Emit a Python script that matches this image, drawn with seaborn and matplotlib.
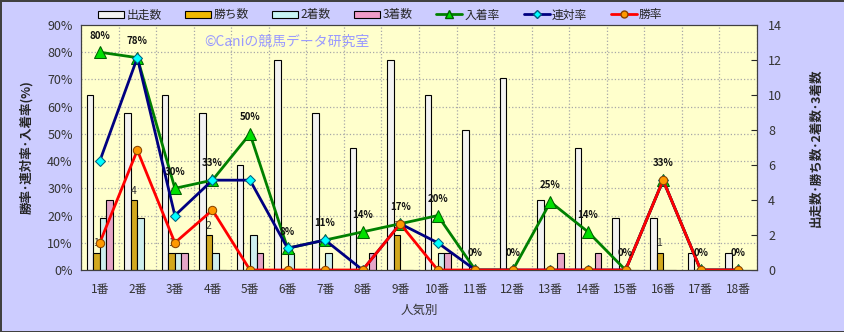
import numpy as np
import pandas as pd
import matplotlib
matplotlib.use("Agg")
import matplotlib.pyplot as plt
import seaborn as sns
from matplotlib.patches import Patch
from matplotlib.lines import Line2D

categories = [f"{i}番" for i in range(1, 19)]
starts = [10, 9, 10, 9, 6, 12, 9, 7, 12, 10, 8, 11, 4, 7, 3, 3, 1, 1]
wins = [1, 4, 1, 2, 0, 0, 0, 0, 2, 0, 0, 0, 0, 0, 0, 1, 0, 0]
seconds = [3, 3, 1, 1, 2, 1, 1, 0, 0, 1, 0, 0, 0, 0, 0, 0, 0, 0]
thirds = [4, 0, 1, 0, 1, 0, 0, 1, 0, 1, 0, 0, 1, 1, 0, 0, 0, 0]
place_rate = [80, 78, 30, 33, 50, 8, 11, 14, 17, 20, 0, 0, 25, 14, 0, 33, 0, 0]
quinella_rate = [40, 78, 20, 33, 33, 8, 11, 0, 17, 10, 0, 0, 0, 0, 0, 33, 0, 0]
win_rate = [10, 44, 10, 22, 0, 0, 0, 0, 17, 0, 0, 0, 0, 0, 0, 33, 0, 0]
series_names = ["出走数", "勝ち数", "2着数", "3着数"]
line_names = ["入着率", "連対率", "勝率"]

sns.set_style("white")
plt.rcParams["font.family"] = ["Noto Sans CJK JP", "DejaVu Sans"]

df = pd.DataFrame({
    "cat": categories * 4,
    "count": starts + wins + seconds + thirds,
    "series": sum([[s] * 18 for s in series_names], []),
})

fig = plt.figure(figsize=(8.45, 3.32), dpi=100)
fig.patch.set_facecolor("#CCCCFF")
fig.patch.set_edgecolor("#404040")
fig.patch.set_linewidth(2)
ax = fig.add_axes([81 / 845, 1 - 270 / 332, 676 / 845, 245 / 332])
ax.set_facecolor("#FFFFCC")

bar_colors = ["#F2F2F2", "#F0B800", "#C8F4F4", "#F09CC8"]
sns.barplot(data=df, x="cat", y="count", hue="series", hue_order=series_names,
            order=categories, palette=bar_colors, width=0.7, edgecolor="black",
            linewidth=0.8, ax=ax, legend=False)

# win-count labels
for i, w in enumerate(wins):
    if w > 0:
        ax.annotate(str(w), (i - 0.1, w), xytext=(0, 3), textcoords="offset points",
                    ha="center", va="bottom", fontsize=7.5, color="#333333")

ax2 = ax.twinx()

ax.set_ylim(0, 14)
ax.set_xlim(-0.5, 17.5)
ax.yaxis.tick_right()
ax.yaxis.set_label_position("right")
ax.set_yticks(range(0, 15, 2))
ax.set_yticks(np.linspace(0, 14, 10), minor=True)
ax.set_xticks(np.arange(-0.5, 18, 1), minor=True)
ax.grid(which="minor", axis="both", color="#A8A8A8", linestyle=":", linewidth=0.9)
ax.tick_params(which="minor", length=0)
ax.tick_params(axis="y", which="major", direction="in", length=4, labelsize=9,
               labelcolor="#333333", pad=8, left=False, labelleft=False,
               right=True, labelright=True)
ax.tick_params(axis="x", which="major", length=0, labelsize=8.5, labelcolor="#333333", pad=9)
ax.set_axisbelow(True)
ax.set_ylabel("出走数･勝ち数･2着数･3着数", fontsize=9, fontweight="bold", labelpad=20)
ax.set_xlabel("人気別", fontsize=9, color="#333333", labelpad=6)
for sp in ax.spines.values():
    sp.set_color("#404040")

ax2.yaxis.tick_left()
ax2.yaxis.set_label_position("left")
xs = np.arange(len(categories))
sns.lineplot(x=xs, y=place_rate, ax=ax2, color="#008000", linewidth=2, marker="^",
             markersize=8, markerfacecolor="#00E000", markeredgecolor="#006000")
sns.lineplot(x=xs, y=quinella_rate, ax=ax2, color="#000080", linewidth=2, marker="D",
             markersize=5, markerfacecolor="#00FFFF", markeredgecolor="#006080")
sns.lineplot(x=xs, y=win_rate, ax=ax2, color="#FF0000", linewidth=2, marker="o",
             markersize=6, markerfacecolor="#FF9900", markeredgecolor="#884400")
ax2.set_ylim(0, 90)
ax2.set_xlim(-0.5, 17.5)
ax2.set_yticks(range(0, 91, 10))
ax2.set_yticklabels([f"{v}%" for v in range(0, 91, 10)])
ax2.tick_params(axis="y", length=0, labelsize=9, labelcolor="#333333", pad=6,
                right=False, labelright=False, left=False, labelleft=True)
ax2.set_ylabel("勝率･連対率･入着率(%)", fontsize=9, fontweight="bold", labelpad=10)
for sp in ax2.spines.values():
    sp.set_color("#404040")

for i, v in enumerate(place_rate):
    ax2.annotate(f"{v}%", (i, v), xytext=(0, 12), textcoords="offset points",
                 ha="center", va="center", fontsize=7, fontweight="bold", color="#111111")

ax2.text(0.183, 0.93, "©Caniの競馬データ研究室", transform=ax2.transAxes,
         fontsize=10, color="#9999FF", ha="left", va="center")

handles = [Patch(facecolor=c, edgecolor="black", linewidth=0.8) for c in bar_colors]
handles += [
    Line2D([], [], color="#008000", lw=2, marker="^", markersize=6,
           markerfacecolor="#00E000", markeredgecolor="#006000"),
    Line2D([], [], color="#000080", lw=2, marker="D", markersize=4,
           markerfacecolor="#00FFFF", markeredgecolor="#006080"),
    Line2D([], [], color="#FF0000", lw=2, marker="o", markersize=5,
           markerfacecolor="#FF9900", markeredgecolor="#884400"),
]
fig.legend(handles, series_names + line_names, loc="center", bbox_to_anchor=(0.45, 0.955),
           ncol=7, frameon=False, fontsize=8.5, handlelength=2.2, handleheight=0.6,
           columnspacing=2.0, handletextpad=0.2)

fig.savefig("out.png", dpi=100, facecolor=fig.get_facecolor(), edgecolor=fig.get_edgecolor())
